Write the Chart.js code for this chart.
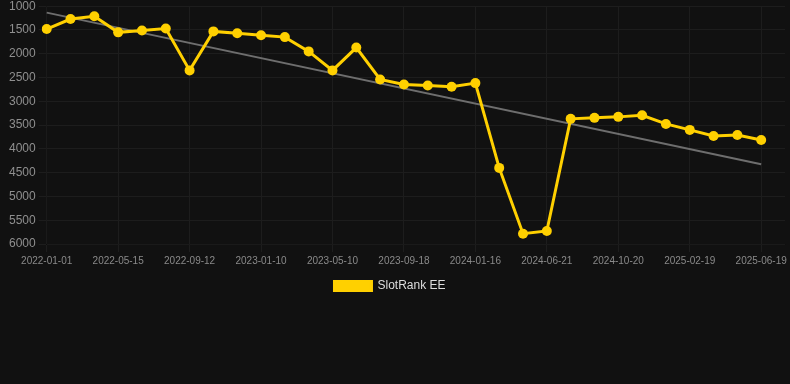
<!DOCTYPE html>
<html>
<head>
<meta charset="utf-8">
<script src="https://cdn.jsdelivr.net/npm/chart.js@4"></script>
<style>
body { margin: 0; background: #111111; overflow: hidden; }
#wrap { width: 790px; height: 306px; margin-top: -4px; }
</style>
</head>
<body>
<div id="wrap"><canvas id="rankChart"></canvas></div>
<script>
// dates on the x axis (only every 3rd one is shown)
const dates = [
    "2022-01-01", "2022-02-14", "2022-03-30", "2022-05-15", "2022-06-24", "2022-08-03",
    "2022-09-12", "2022-10-22", "2022-12-01", "2023-01-10", "2023-02-19", "2023-03-31",
    "2023-05-10", "2023-06-23", "2023-08-06", "2023-09-18", "2023-10-28", "2023-12-07",
    "2024-01-16", "2024-03-08", "2024-04-29", "2024-06-21", "2024-07-31", "2024-09-09",
    "2024-10-20", "2024-11-29", "2025-01-09", "2025-02-19", "2025-03-31", "2025-05-10",
    "2025-06-19", "2025-07-29"
];

// SlotRank EE rank per date
const rankValues = [
    1480, 1270, 1210, 1550, 1510, 1470,
    2350, 1530, 1570, 1610, 1650, 1950,
    2350, 1870, 2540, 2645, 2667, 2695,
    2617, 4400, 5783, 5726, 3369, 3348,
    3327, 3293, 3475, 3601, 3728, 3707,
    3812, null
];

// trend line end points (first and last date)
const trendStart = 1135;
const trendEnd = 4325;

const trendValues = dates.map((d, i) => {
    if (i === 0) return trendStart;
    if (i === 30) return trendEnd;
    return null;
});

const yTicks = [1000, 1500, 2000, 2500, 3000, 3500, 4000, 4500, 5000, 5500, 6000];

Chart.defaults.font.family = "'Liberation Sans', Arial, sans-serif";

// nudge the legend a little to the left, like the original
const legendShift = {
    id: "legendShift",
    afterLayout(chart) {
        chart.legend.left -= 10;
        chart.legend.right -= 10;
    }
};

const ctx = document.getElementById("rankChart");

const chart = new Chart(ctx, {

    type: "line",

    data: {
        labels: dates,

        datasets: [{
            label: "SlotRank EE",
            data: rankValues,
            borderColor: "#ffd000",
            backgroundColor: "#ffd000",
            borderWidth: 3,
            pointRadius: 5,
            pointBorderWidth: 0,
            pointHoverRadius: 5,
            tension: 0
        }, {
            label: "trend",
            data: trendValues,
            borderColor: "#6e6e6e",
            borderWidth: 2,
            pointRadius: 0,
            spanGaps: true,
            tension: 0
        }]
    },

    options: {
        responsive: true,
        maintainAspectRatio: false,
        animation: false,

        layout: {
            padding: { left: 6, top: 0, right: -4 }
        },

        plugins: {
            legend: {
                position: "bottom",
                labels: {
                    color: "#dddddd",
                    boxWidth: 37,
                    boxHeight: 9,
                    font: { size: 12 },
                    filter: item => item.text !== "trend"
                }
            },
            tooltip: { enabled: false }
        },

        scales: {

            x: {
                ticks: {
                    color: "#8a8a8a",
                    font: { size: 10 },
                    maxRotation: 0,
                    autoSkip: true,
                    maxTicksLimit: 11
                },
                grid: {
                    color: "#1d1d1d"
                }
            },

            y: {
                reverse: true,
                min: 1000,
                max: 6000,
                afterBuildTicks: axis => {
                    axis.ticks = yTicks.map(v => ({ value: v }));
                },
                ticks: {
                    color: "#8f8f8f",
                    font: { size: 12 },
                    callback: v => String(v)
                },
                grid: {
                    color: "#1d1d1d"
                }
            }

        }

    },

    plugins: [legendShift]

});
</script>
</body>
</html>
